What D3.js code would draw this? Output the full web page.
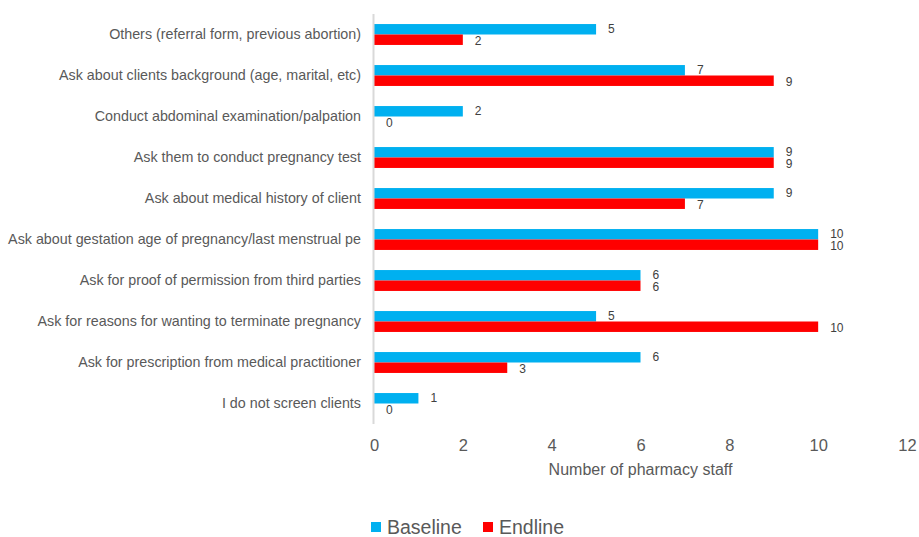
<!DOCTYPE html>
<html>
<head>
<meta charset="utf-8">
<script src="https://cdn.jsdelivr.net/npm/d3@7"></script>
<style>
  html, body { margin: 0; padding: 0; background: #fff; }
  svg { display: block; font-family: "Liberation Sans", "DejaVu Sans", sans-serif; }
</style>
</head>
<body>
<svg id="chart" width="919" height="537"></svg>
<script>
// Screening practices, top to bottom
const categories = [
  "Others (referral form, previous abortion)",
  "Ask about clients background (age, marital, etc)",
  "Conduct abdominal examination/palpation",
  "Ask them to conduct pregnancy test",
  "Ask about medical history of client",
  "Ask about gestation age of pregnancy/last menstrual pe",
  "Ask for proof of permission from third parties",
  "Ask for reasons for wanting to terminate pregnancy",
  "Ask for prescription from medical practitioner",
  "I do not screen clients"
];
const baseline = [5, 7, 2, 9, 9, 10, 6, 5, 6, 1];
const endline  = [2, 9, 0, 9, 7, 10, 6, 10, 3, 0];
const seriesNames = ["Baseline", "Endline"];
const seriesColors = ["#00B0F0", "#FF0000"];
const xTicks = [0, 2, 4, 6, 8, 10, 12];
const xTitle = "Number of pharmacy staff";

const svg = d3.select("#chart");
const plotLeft = 374, plotRight = 907, plotTop = 14, plotBottom = 424;

const x = d3.scaleLinear().domain([0, 12]).range([plotLeft, plotRight]);
const y = d3.scaleBand().domain(categories).range([plotTop, plotBottom])
  .paddingInner(0.49).paddingOuter(0.245);
const sub = d3.scaleBand().domain(seriesNames).range([0, y.bandwidth()]);

const rows = categories.map((c, i) => ({ c, vals: [baseline[i], endline[i]] }));

// Bars with value labels
const g = svg.append("g");
rows.forEach(r => {
  r.vals.forEach((v, k) => {
    const y0 = y(r.c) + sub(seriesNames[k]);
    g.append("rect")
      .attr("x", x(0))
      .attr("y", y0)
      .attr("width", x(v) - x(0))
      .attr("height", sub.bandwidth())
      .attr("fill", seriesColors[k]);
    g.append("text")
      .attr("x", x(v) + 12)
      .attr("y", y0 + sub.bandwidth() / 2 + (k === 0 ? -1 : 1))
      .attr("dy", "0.36em")
      .attr("font-size", 12)
      .attr("fill", "#404040")
      .text(v);
  });
});

// Vertical category axis line
svg.append("line")
  .attr("x1", plotLeft - 0.5).attr("x2", plotLeft - 0.5)
  .attr("y1", plotTop).attr("y2", plotBottom)
  .attr("stroke", "#d9d9d9").attr("stroke-width", 2);

// Category labels
svg.append("g").selectAll("text").data(categories).join("text")
  .attr("x", 361)
  .attr("y", d => y(d) + y.bandwidth() / 2 - 0.5)
  .attr("dy", "0.36em")
  .attr("text-anchor", "end")
  .attr("font-size", 14.3)
  .attr("fill", "#595959")
  .text(d => d);

// X axis tick labels
const xAxis = d3.axisBottom(x).tickValues(xTicks).tickSize(0).tickPadding(0);
const ax = svg.append("g").attr("transform", `translate(0,${plotBottom + 15})`).call(xAxis);
ax.select(".domain").remove();
ax.selectAll("text").attr("font-size", 16.5).attr("fill", "#595959")
  .attr("font-family", "Liberation Sans, sans-serif").attr("dy", "0.71em");

// Axis title
svg.append("text")
  .attr("x", (plotLeft + plotRight) / 2)
  .attr("y", 469)
  .attr("dy", "0.36em")
  .attr("text-anchor", "middle")
  .attr("font-size", 16)
  .attr("fill", "#595959")
  .text(xTitle);

// Legend
const legendX = [371, 483];
const lg = svg.append("g");
seriesNames.forEach((n, k) => {
  lg.append("rect").attr("x", legendX[k]).attr("y", 522).attr("width", 10).attr("height", 10)
    .attr("fill", seriesColors[k]);
  lg.append("text").attr("x", legendX[k] + 16).attr("y", 527).attr("dy", "0.36em")
    .attr("font-size", 19.5).attr("fill", "#595959").text(n);
});
</script>
</body>
</html>
